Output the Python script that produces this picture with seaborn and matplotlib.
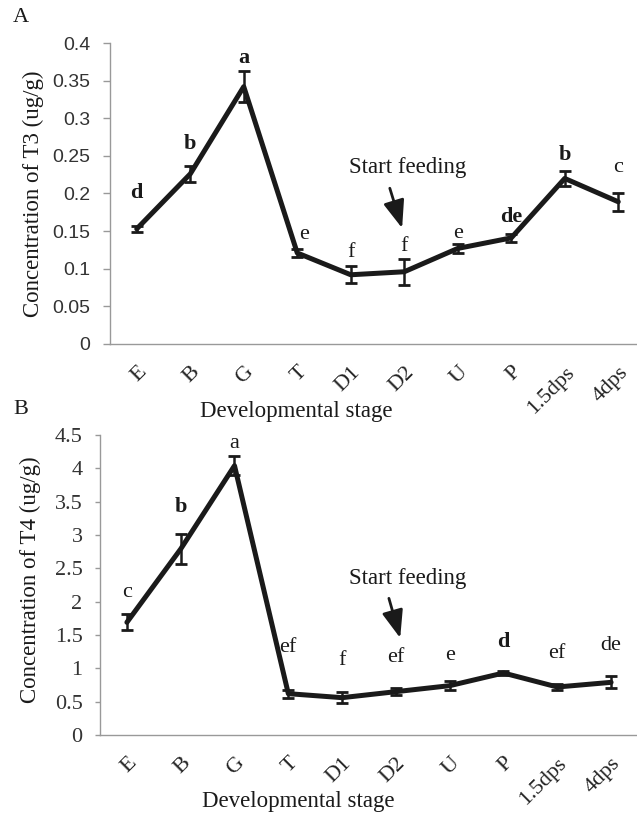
import numpy as np
import pandas as pd
import matplotlib
matplotlib.use("Agg")
import matplotlib.pyplot as plt
import matplotlib.transforms as mtransforms
import seaborn as sns

# Developmental stages on the x axis
stages = ["E", "B", "G", "T", "D1", "D2", "U", "P", "1.5dps", "4dps"]

# Panel A: T3 concentration (ug/g), mean and error
t3_mean = [0.153, 0.226, 0.342, 0.121, 0.092, 0.096, 0.127, 0.141, 0.220, 0.189]
t3_err = [0.004, 0.011, 0.021, 0.005, 0.011, 0.017, 0.006, 0.005, 0.010, 0.012]
t3_letters = ["d", "b", "a", "e", "f", "f", "e", "de", "b", "c"]
t3_bold = [True, True, True, False, False, False, False, True, True, False]
t3_letter_y = [0.200, 0.266, 0.380, 0.146, 0.121, 0.129, 0.147, 0.169, 0.251, 0.234]

# Panel B: T4 concentration (ug/g), mean and error
t4_mean = [1.69, 2.79, 4.04, 0.62, 0.56, 0.65, 0.74, 0.93, 0.72, 0.79]
t4_err = [0.12, 0.22, 0.14, 0.06, 0.08, 0.05, 0.07, 0.03, 0.04, 0.09]
t4_letters = ["c", "b", "a", "ef", "f", "ef", "e", "d", "ef", "de"]
t4_bold = [False, True, False, False, False, False, False, True, False, False]
t4_letter_y = [2.14, 3.42, 4.38, 1.32, 1.12, 1.17, 1.20, 1.39, 1.23, 1.34]

sns.set_theme(style="white")
plt.rcParams["font.family"] = ["Liberation Serif", "DejaVu Serif"]

W, H = 637, 814
INK = "#1a1a1a"
fig = plt.figure(figsize=(W / 100, H / 100), dpi=100)


def px_axes(left, top, right, bottom):
    return fig.add_axes([left / W, 1 - bottom / H, (right - left) / W, (bottom - top) / H])


def draw_panel(ax, means, errs, letters, bold, letter_y, ymax, ystep,
               ytick_font, ytick_size, ytick_len, t_shift):
    df = pd.DataFrame({"stage": stages, "value": means, "err": errs})
    sns.lineplot(data=df, x="stage", y="value", color=INK, lw=3.6, ax=ax, sort=False)
    ax.errorbar(np.arange(len(stages)), df["value"], yerr=df["err"], fmt="none",
                ecolor=INK, elinewidth=1.8, capsize=4.5, capthick=2, zorder=3)
    for i, (lab, b, ly) in enumerate(zip(letters, bold, letter_y)):
        dx = t_shift if i == 3 else 0
        ax.text(i + dx, ly, lab, ha="center", va="center", fontsize=16,
                fontweight="bold" if b else "normal", color=INK)
    ax.set_xlim(-0.5, 9.5)
    ax.set_ylim(0, ymax)
    yt = np.arange(0, ymax + ystep / 2, ystep)
    ax.set_yticks(yt)
    ax.set_yticklabels([f"{v:g}" for v in yt], fontsize=ytick_size, family=ytick_font,
                       color="#333333")
    ax.set_xticks(np.arange(len(stages)))
    ax.set_xticklabels(stages, rotation=45, ha="right", va="top", rotation_mode="anchor",
                       fontsize=16, color="#222222")
    shift = mtransforms.ScaledTranslation(-9 / 100, 0, fig.dpi_scale_trans)
    for lab in ax.get_xticklabels():
        lab.set_transform(lab.get_transform() + shift)
    ax.set_xticks(np.arange(-0.5, 10, 1), minor=True)
    ax.tick_params(axis="x", which="major", length=0, pad=13.5)
    ax.tick_params(axis="x", which="minor", length=5, color="#999999", width=1, direction="out")
    ax.tick_params(axis="y", length=ytick_len, color="#999999", width=1, direction="out",
                   left=True, pad=9)
    for s in ["top", "right"]:
        ax.spines[s].set_visible(False)
    for s in ["left", "bottom"]:
        ax.spines[s].set_color("#999999")
        ax.spines[s].set_linewidth(1)
    ax.set_xlabel("")
    ax.set_ylabel("")
    ax.grid(False)


def start_feeding(ax, text_xy, arrow_from, arrow_to):
    ax.annotate("", xy=arrow_to, xytext=arrow_from,
                arrowprops=dict(arrowstyle="-|>,head_length=1.7,head_width=0.65",
                                color=INK, lw=2, mutation_scale=10,
                                shrinkA=0, shrinkB=0))
    ax.text(*text_xy, "Start feeding", ha="center", va="center", fontsize=16.5, color=INK)


# Panel A
axA = px_axes(110, 43, 645, 344)
draw_panel(axA, t3_mean, t3_err, t3_letters, t3_bold, t3_letter_y, 0.4, 0.05,
           "Liberation Sans", 14, 5, 0.13)
start_feeding(axA, (5.07, 0.235), (4.73, 0.207), (4.96, 0.154))
fig.text(33 / W, 1 - 194 / H, "Concentration of T3 (ug/g)", rotation=90, ha="center",
         va="center", fontsize=16.5, color=INK)
fig.text(296 / W, 1 - 411 / H, "Developmental stage", ha="center", va="center",
         fontsize=16.5, color=INK)
fig.text(21 / W, 1 - 17 / H, "A", ha="center", va="center", fontsize=16, color=INK)

# Panel B
axB = px_axes(100, 435, 638, 735)
draw_panel(axB, t4_mean, t4_err, t4_letters, t4_bold, t4_letter_y, 4.5, 0.5,
           "Liberation Serif", 16, 3.6, 0)
start_feeding(axB, (5.22, 2.35), (4.87, 2.05), (5.08, 1.455))
fig.text(30 / W, 1 - 580 / H, "Concentration of T4 (ug/g)", rotation=90, ha="center",
         va="center", fontsize=16.5, color=INK)
fig.text(298 / W, 1 - 802 / H, "Developmental stage", ha="center", va="center",
         fontsize=16.5, color=INK)
fig.text(21 / W, 1 - 410 / H, "B", ha="center", va="center", fontsize=16, color=INK)

fig.savefig("out.png", dpi=100, facecolor="white")
